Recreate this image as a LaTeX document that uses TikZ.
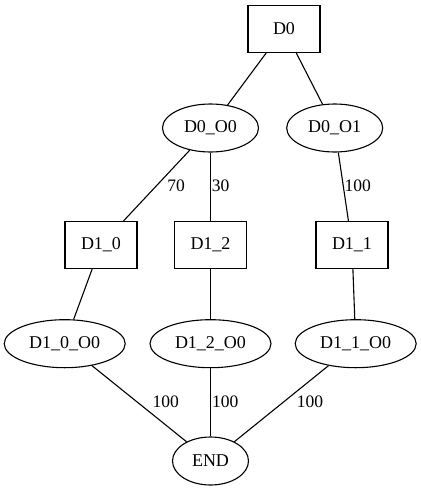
\documentclass[tikz,border=0pt]{standalone}
\usepackage{fontspec}
\setmainfont{Liberation Serif}
\usetikzlibrary{shapes.geometric}
\begin{document}
\begin{tikzpicture}[x=1pt,y=-1pt,
  every node/.style={font=\fontsize{18}{20}\selectfont},
  boxnode/.style={draw, line width=1.1pt, rectangle, inner sep=0pt, minimum width=72pt, minimum height=47pt},
  ovalnode/.style={draw, line width=1.1pt, ellipse, inner sep=0pt, minimum height=48pt},
  edge/.style={line width=1.1pt},
  elabel/.style={font=\fontsize{17.5}{20}\selectfont, inner sep=0pt}]
\useasboundingbox (0,0) rectangle (421,491);

% decision nodes (boxes) and outcome nodes (ellipses)
\node[boxnode] (d0) at (284,29) {D0};
\node[ovalnode, minimum width=96pt] (d0o0) at (210.5,128) {D0\_O0};
\node[ovalnode, minimum width=96pt] (d0o1) at (334.7,128) {D0\_O1};
\node[boxnode] (d10) at (101,245) {D1\_0};
\node[boxnode] (d12) at (210.5,245) {D1\_2};
\node[boxnode] (d11) at (352,245) {D1\_1};
\node[ovalnode, minimum width=121pt] (d10o0) at (64.7,343.7) {D1\_0\_O0};
\node[ovalnode, minimum width=121pt] (d12o0) at (210.5,343.7) {D1\_2\_O0};
\node[ovalnode, minimum width=121pt] (d11o0) at (355.7,343.7) {D1\_1\_O0};
\node[ovalnode, minimum width=76pt] (end) at (210.5,461) {END};

% connectors
\draw[edge] (d0) -- (d0o0);
\draw[edge] (d0) -- (d0o1);
\draw[edge] (d0o0) -- (d10);
\draw[edge] (d0o0) -- (d12);
\draw[edge] (d0o1) -- (d11);
\draw[edge] (d10) -- (d10o0);
\draw[edge] (d12) -- (d12o0);
\draw[edge] (d11) -- (d11o0);
\draw[edge] (d10o0) -- (end);
\draw[edge] (d12o0) -- (end);
\draw[edge] (d11o0) -- (end);

% edge weights
\node[elabel] (w70) at (176,186) {70};
\node[elabel] (w30) at (220.7,186) {30};
\node[elabel] (w100a) at (357.8,186) {100};
\node[elabel] (w100b) at (165.8,402) {100};
\node[elabel] (w100c) at (225.3,402) {100};
\node[elabel] (w100d) at (310,402) {100};
\end{tikzpicture}
\end{document}
